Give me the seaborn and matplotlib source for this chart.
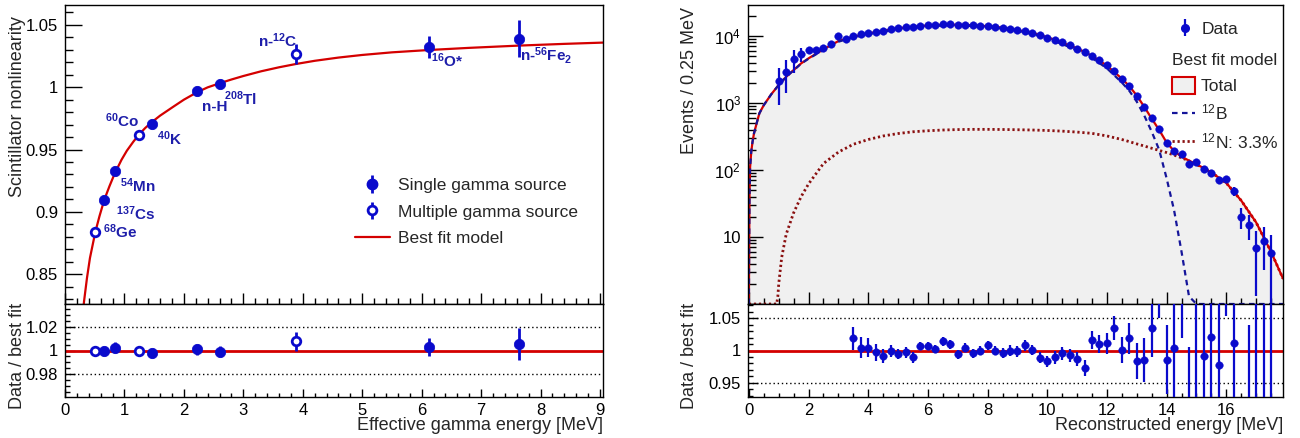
import numpy as np
import matplotlib
matplotlib.use("Agg")
import matplotlib.pyplot as plt
import matplotlib.ticker as mticker
from matplotlib.lines import Line2D
from matplotlib.patches import Patch
import seaborn as sns

# ------------------------------------------------------------------ left panel data
src_labels = [r'$^{\mathbf{68}}$Ge', r'$^{\mathbf{137}}$Cs', r'$^{\mathbf{54}}$Mn', r'$^{\mathbf{60}}$Co',
              r'$^{\mathbf{40}}$K', 'n-H', r'$^{\mathbf{208}}$Tl', r'n-$^{\mathbf{12}}$C',
              r'$^{\mathbf{16}}$O*', r'n-$^{\mathbf{56}}$Fe$_{\mathbf{2}}$']
src_energy = [0.511, 0.662, 0.835, 1.25, 1.461, 2.223, 2.615, 3.88, 6.13, 7.63]
src_nonlin = [0.884, 0.9095, 0.9327, 0.9618, 0.9701, 0.9973, 1.0027, 1.0267, 1.0323, 1.0391]
src_err = [0.003, 0.004, 0.004, 0.004, 0.004, 0.004, 0.004, 0.008, 0.0086, 0.0148]
src_multi = [True, False, False, True, False, False, False, True, False, False]
src_ratio = [1.000, 0.9997, 1.0023, 0.9995, 0.9977, 1.001, 0.9991, 1.0078, 1.0029, 1.0052]
src_ratio_err = [0.0036, 0.004, 0.0047, 0.0043, 0.0045, 0.0045, 0.0045, 0.0079, 0.0079, 0.0137]
label_x = [0.633, 0.850, 0.924, 0.672, 1.541, 2.297, 2.672, 3.249, 6.163, 7.647]
label_y = [0.8788, 0.8931, 0.9160, 0.9677, 0.9537, 0.9812, 0.9860, 1.0320, 1.0162, 1.0210]

fit_energy = [0.30, 0.32, 0.37, 0.42, 0.511, 0.58, 0.662, 0.75, 0.835, 0.95, 1.04, 1.15,
              1.25, 1.35, 1.461, 1.6, 1.82, 2.0, 2.223, 2.4, 2.615, 2.8, 3.0, 3.3, 3.6,
              3.88, 4.2, 4.6, 5.0, 5.5, 6.13, 6.8, 7.63, 8.4, 9.1]
fit_nonlin = [0.818, 0.828, 0.847, 0.863, 0.884, 0.8965, 0.9098, 0.9208, 0.9306, 0.9417,
              0.9490, 0.9563, 0.9623, 0.9673, 0.9720, 0.9772, 0.9843, 0.9900, 0.9960,
              0.9999, 1.0034, 1.0062, 1.0090, 1.0128, 1.0160, 1.0186, 1.0212, 1.0238,
              1.0259, 1.0280, 1.0299, 1.0316, 1.0334, 1.0348, 1.0359]

# ------------------------------------------------------------------ right panel data
data_energy = [1.0 + 0.25 * i for i in range(67)]
data_counts = [2130, 2900, 4490, 5380, 6110, 6110, 6620, 7600, 10000, 8920,
               10000, 10600, 10960, 11600, 12000, 12600, 13000, 13500, 13800, 14300,
               14460, 14600, 14960, 14960, 14600, 14600, 14430, 14260, 14100, 13620,
               13300, 12850, 12150, 11740, 10960, 10240, 9440, 8720, 8050, 7340,
               6460, 5710, 5080, 4340, 3650, 3000, 2310, 1770, 1270, 863,
               604, 405, 250, 192, 171, 123, 130, 102, 89, 71,
               73, 48.6, 20.1, 15, 6.8, 8.7, 5.7]
data_err = [1200, 1480, 1700, 1300, 500, 400, 400, 400, 400, 400,
            250, 250, 250, 250, 250, 250, 250, 250, 250, 250,
            250, 250, 250, 250, 250, 250, 250, 250, 250, 250,
            250, 250, 250, 200, 200, 200, 200, 200, 200, 200,
            200, 150, 150, 150, 150, 150, 150, 120, 90, 60,
            45, 30, 20, 15, 13, 11, 11, 10, 9, 8,
            8, 8, 7, 6, 5.5, 5.5, 5]

model_energy = [0.0, 0.01, 0.02, 0.04, 0.08, 0.12, 0.17, 0.25, 0.35, 0.5, 0.75, 0.93, 0.97,
                1.0, 1.1, 1.25, 1.5, 1.75, 2.0, 2.5, 3.0, 3.5, 4.0, 4.5, 5.0, 5.5, 6.0, 6.5,
                7.0, 7.5, 8.0, 8.5, 9.0, 9.5, 10.0, 10.5, 11.0, 11.5, 12.0, 12.5, 12.75, 13.0,
                13.25, 13.5, 13.75, 14.0, 14.25, 14.5, 14.75, 15.0, 15.5, 16.0, 16.5, 17.0,
                17.5, 17.9]
model_total = [1, 8, 40, 110, 190, 260, 350, 480, 700, 930, 1350, 1700, 1790,
               1860, 2080, 2460, 3100, 3900, 4640, 6320, 8400, 9800, 10910, 11950, 13060,
               13700, 14360, 14700, 14690, 14500, 14000, 13350, 12170, 11150, 9600, 7950,
               6540, 5050, 3610, 2308, 1785, 1290, 878, 584, 396, 257, 192, 158, 138, 122,
               92, 64, 35, 16.5, 6, 2.4]
model_b12 = [1, 8, 40, 110, 190, 260, 350, 480, 700, 930, 1350, 1700, 1789,
             1858, 2075, 2450, 3077, 3860, 4578, 6195, 8215, 9558, 10625, 11628, 12710,
             13328, 13975, 14305, 14289, 14096, 13596, 12948, 11771, 10755, 9211, 7570,
             6172, 4698, 3288, 2020, 1520, 1045, 650, 373, 200, 75, 25, 6, 1.3, 1,
             1, 1, 1, 1, 1, 1]
model_n12 = [1, 1, 1, 1, 1, 1, 1, 1, 1, 1, 1, 1, 1.3,
             2, 5, 11, 23, 40, 62, 125, 185, 242, 285, 322, 350,
             372, 385, 395, 401, 404, 404, 402, 399, 395, 389, 380,
             368, 352, 322, 285, 265, 245, 228, 211, 196, 182, 167, 152, 137, 121,
             92, 64, 35, 16.5, 6, 2.4]

ratio_energy = [3.5 + 0.25 * i for i in range(57)]
ratio_values = [1.0187, 1.0045, 1.0045, 0.9975, 0.992, 0.999, 0.995, 0.997, 0.9894, 1.007,
                1.007, 1.003, 1.0146, 1.010, 0.9944, 1.004, 0.996, 1.000, 1.008, 0.9995,
                0.996, 1.000, 0.9985, 1.008, 1.001, 0.989, 0.983, 0.9894, 0.996, 0.9924,
                0.987, 0.973, 1.0157, 1.010, 1.011, 1.035, 1.001, 1.019, 0.984, 0.986,
                1.035, 1.10, 0.986, 1.0045, 1.12, 0.90, 1.15, 0.992, 1.021, 0.978,
                1.12, 1.012, 0.59, 0.63, 0.42, 0.76, 1.2]
ratio_err = [0.0177, 0.016, 0.015, 0.013, 0.011, 0.009, 0.008, 0.009, 0.008, 0.006,
             0.006, 0.006, 0.007, 0.007, 0.007, 0.007, 0.007, 0.007, 0.007, 0.007,
             0.008, 0.008, 0.008, 0.008, 0.008, 0.009, 0.009, 0.010, 0.010, 0.010,
             0.011, 0.013, 0.014, 0.014, 0.016, 0.018, 0.020, 0.024, 0.028, 0.034,
             0.045, 0.05, 0.054, 0.09, 0.10, 0.106, 0.25, 0.10, 0.10, 0.10,
             0.066, 0.12, 0.2, 0.41, 0.8, 0.45, 0.9]

# ------------------------------------------------------------------ style
sns.set_theme(style="white")
plt.rcParams["font.family"] = ["Liberation Sans", "DejaVu Sans"]
plt.rcParams["mathtext.fontset"] = "custom"
plt.rcParams["mathtext.rm"] = "Liberation Sans"
plt.rcParams["mathtext.it"] = "Liberation Sans:italic"
plt.rcParams["mathtext.bf"] = "Liberation Sans:bold"
plt.rcParams["axes.unicode_minus"] = False

BLUE = "#0a0acc"
LBLUE = "#1e1eaa"
RED = "#d40000"
NAVY = "#15159a"
DRED = "#8a1010"
GRAY = "#f0f0f0"
TICK_FS = 12
TITLE_FS = 13
LEG_FS = 12.5

W, H = 1300, 438
fig = plt.figure(figsize=(13, 4.38), dpi=100)


def rect(x0, y0, x1, y1):
    return [x0 / W, 1 - y1 / H, (x1 - x0) / W, (y1 - y0) / H]


def style_axis(ax, xmaj, xmin, ymaj, ymin):
    for s in ax.spines.values():
        s.set_visible(True)
        s.set_color("black")
        s.set_linewidth(1.0)
    ax.tick_params(axis="x", which="major", direction="in", length=xmaj, width=1,
                   colors="black", top=False, bottom=True, labelsize=TICK_FS, pad=4)
    ax.tick_params(axis="x", which="minor", direction="in", length=xmin, width=1,
                   colors="black", top=False, bottom=True)
    ax.tick_params(axis="y", which="major", direction="in", length=ymaj, width=1,
                   colors="black", right=False, left=True, labelsize=TICK_FS, pad=5)
    ax.tick_params(axis="y", which="minor", direction="in", length=ymin, width=1,
                   colors="black", right=False, left=True)
    ax.grid(False)


gfmt = mticker.FuncFormatter(lambda v, p: "%g" % round(v, 6))

# ================================================================== LEFT TOP
axL = fig.add_axes(rect(65, 5, 603, 304))
axL.set_facecolor("white")
sns.lineplot(x=fit_energy, y=fit_nonlin, ax=axL, color=RED, lw=1.6, sort=False,
             estimator=None, zorder=2)
axL.errorbar(src_energy, src_nonlin, yerr=src_err, fmt="none", ecolor=BLUE,
             elinewidth=2, capsize=0, zorder=3)
single_x = [e for e, m in zip(src_energy, src_multi) if not m]
single_y = [v for v, m in zip(src_nonlin, src_multi) if not m]
multi_x = [e for e, m in zip(src_energy, src_multi) if m]
multi_y = [v for v, m in zip(src_nonlin, src_multi) if m]
sns.scatterplot(x=single_x, y=single_y, ax=axL, color=BLUE, s=56, edgecolor=BLUE,
                linewidth=0.5, zorder=4)
sns.scatterplot(x=multi_x, y=multi_y, ax=axL, color="white", s=38, edgecolor=BLUE,
                linewidth=2.0, zorder=4)
for lab, lx, ly in zip(src_labels, label_x, label_y):
    axL.text(lx, ly, lab, color=LBLUE, fontsize=11, fontweight="bold",
             ha="left", va="baseline", zorder=5)
axL.set_xlim(0, 9.05)
axL.set_ylim(0.826, 1.066)
axL.xaxis.set_major_locator(mticker.MultipleLocator(1))
axL.xaxis.set_minor_locator(mticker.MultipleLocator(0.2))
axL.yaxis.set_major_locator(mticker.MultipleLocator(0.05))
axL.yaxis.set_minor_locator(mticker.MultipleLocator(0.01))
axL.yaxis.set_major_formatter(gfmt)
style_axis(axL, 8, 4, 12, 6)
axL.tick_params(axis="x", labelbottom=False)
axL.set_xlabel("")
axL.set_ylabel("")

h_single = axL.errorbar([np.nan], [np.nan], yerr=[0.01], fmt="o", color=BLUE, ms=7.5,
                        elinewidth=2, capsize=0)
h_multi = axL.errorbar([np.nan], [np.nan], yerr=[0.01], fmt="o", color=BLUE, mfc="white",
                       mec=BLUE, mew=2, ms=6.3, elinewidth=2, capsize=0)
h_fit = Line2D([], [], color=RED, lw=1.6)
axL.legend([h_single, h_multi, h_fit],
           ["Single gamma source", "Multiple gamma source", "Best fit model"],
           loc="center left", bbox_to_anchor=((355 - 65) / 538, (304 - 212) / 299),
           frameon=False, borderpad=0, borderaxespad=0, handlelength=2.0,
           handletextpad=0.5, labelspacing=0.65, fontsize=LEG_FS)

# ================================================================== LEFT RATIO
axLr = fig.add_axes(rect(65, 304, 603, 397))
axLr.set_facecolor("white")
for v in (0.98, 1.02):
    axLr.axhline(v, color="black", lw=1, ls=(0, (1, 2)), zorder=1)
axLr.axhline(1.0, color=RED, lw=2, zorder=2)
axLr.errorbar(src_energy, src_ratio, yerr=src_ratio_err, fmt="none", ecolor=BLUE,
              elinewidth=2, capsize=0, zorder=3)
single_r = [v for v, m in zip(src_ratio, src_multi) if not m]
multi_r = [v for v, m in zip(src_ratio, src_multi) if m]
sns.scatterplot(x=single_x, y=single_r, ax=axLr, color=BLUE, s=56, edgecolor=BLUE,
                linewidth=0.5, zorder=4)
sns.scatterplot(x=multi_x, y=multi_r, ax=axLr, color="white", s=38, edgecolor=BLUE,
                linewidth=2.0, zorder=4)
axLr.set_xlim(0, 9.05)
axLr.set_ylim(0.9604, 1.0396)
axLr.xaxis.set_major_locator(mticker.MultipleLocator(1))
axLr.xaxis.set_minor_locator(mticker.MultipleLocator(0.2))
axLr.yaxis.set_major_locator(mticker.MultipleLocator(0.02))
axLr.yaxis.set_minor_locator(mticker.MultipleLocator(0.005))
axLr.yaxis.set_major_formatter(gfmt)
axLr.xaxis.set_major_formatter(gfmt)
style_axis(axLr, 6, 3, 7, 3.5)
axLr.set_xlabel("")
axLr.set_ylabel("")

# ================================================================== RIGHT TOP
axR = fig.add_axes(rect(748, 5, 1283, 304))
axR.set_facecolor("white")
axR.set_yscale("log")
axR.fill_between(model_energy, model_total, 0.5, color=GRAY, lw=0, zorder=0)
sns.lineplot(x=model_energy, y=model_n12, ax=axR, color=DRED, lw=2.0, sort=False,
             estimator=None, linestyle=(0, (0.8, 1.0)), zorder=1)
sns.lineplot(x=model_energy, y=model_total, ax=axR, color=RED, lw=1.6, sort=False,
             estimator=None, zorder=2)
sns.lineplot(x=model_energy, y=model_b12, ax=axR, color=NAVY, lw=1.6, sort=False,
             estimator=None, linestyle=(0, (2.5, 2.0)), zorder=2.5)
axR.errorbar(data_energy, data_counts, yerr=data_err, fmt="none", ecolor=BLUE,
             elinewidth=1.6, capsize=0, zorder=3)
sns.scatterplot(x=data_energy, y=data_counts, ax=axR, color=BLUE, s=30, edgecolor=BLUE,
                linewidth=0.3, zorder=4)
axR.set_xlim(-0.03, 17.9)
axR.set_ylim(1, 29000)
axR.xaxis.set_major_locator(mticker.MultipleLocator(2))
axR.xaxis.set_minor_locator(mticker.MultipleLocator(0.5))
axR.yaxis.set_major_locator(mticker.FixedLocator([1, 10, 100, 1000, 10000]))
axR.yaxis.set_major_formatter(mticker.FixedFormatter(
    ["", "10", r"$10^{2}$", r"$10^{3}$", r"$10^{4}$"]))
axR.yaxis.set_minor_locator(mticker.LogLocator(base=10, subs=np.arange(2, 10), numticks=20))
axR.yaxis.set_minor_formatter(mticker.NullFormatter())
style_axis(axR, 8.5, 4, 11, 6)
axR.tick_params(axis="x", labelbottom=False)
axR.set_xlabel("")
axR.set_ylabel("")

h_data = axR.errorbar([np.nan], [np.nan], yerr=[1], fmt="o", color=BLUE, ms=5.5,
                      elinewidth=1.6, capsize=0)
leg1 = axR.legend([h_data], ["Data"], loc="center left",
                  bbox_to_anchor=((1173 - 748) / 535, (304 - 29) / 299),
                  frameon=False, borderpad=0, borderaxespad=0, handlelength=1.35,
                  handletextpad=0.3, fontsize=LEG_FS)
axR.add_artist(leg1)
h_total = Patch(facecolor=GRAY, edgecolor=RED, lw=1.5)
h_b12 = Line2D([], [], color=NAVY, lw=1.6, ls=(0, (2.5, 2.0)))
h_n12 = Line2D([], [], color=DRED, lw=2.0, ls=(0, (0.8, 1.0)))
axR.legend([h_total, h_b12, h_n12], ["Total", r"$^{12}$B", r"$^{12}$N: 3.3%"],
           title="Best fit model", alignment="left", loc="upper left",
           bbox_to_anchor=((1172 - 748) / 535, (304 - 53) / 299),
           frameon=False, borderpad=0, borderaxespad=0, handlelength=1.35,
           handleheight=1.15, handletextpad=0.3, labelspacing=0.5, fontsize=LEG_FS,
           title_fontsize=LEG_FS)

# ================================================================== RIGHT RATIO
axRr = fig.add_axes(rect(748, 304, 1283, 397))
axRr.set_facecolor("white")
for v in (0.95, 1.05):
    axRr.axhline(v, color="black", lw=1, ls=(0, (1, 2)), zorder=1)
axRr.axhline(1.0, color=RED, lw=2, zorder=2)
axRr.errorbar(ratio_energy, ratio_values, yerr=ratio_err, fmt="none", ecolor=BLUE,
              elinewidth=1.6, capsize=0, zorder=3)
sns.scatterplot(x=ratio_energy, y=ratio_values, ax=axRr, color=BLUE, s=30,
                edgecolor=BLUE, linewidth=0.3, zorder=4)
axRr.set_xlim(-0.03, 17.9)
axRr.set_ylim(0.928, 1.072)
axRr.xaxis.set_major_locator(mticker.MultipleLocator(2))
axRr.xaxis.set_minor_locator(mticker.MultipleLocator(0.5))
axRr.yaxis.set_major_locator(mticker.MultipleLocator(0.05))
axRr.yaxis.set_minor_locator(mticker.MultipleLocator(0.01))
axRr.yaxis.set_major_formatter(gfmt)
axRr.xaxis.set_major_formatter(gfmt)
style_axis(axRr, 6, 3, 7, 3.5)
axRr.set_xlabel("")
axRr.set_ylabel("")

# ================================================================== axis titles
fig.text(18 / W, 1 - 16 / H, "Scintillator nonlinearity", rotation=90, ha="center",
         va="top", fontsize=TITLE_FS)
fig.text(18 / W, 1 - 356 / H, "Data / best fit", rotation=90, ha="center",
         va="center", fontsize=TITLE_FS)
fig.text(690 / W, 1 - 7 / H, "Events / 0.25 MeV", rotation=90, ha="center",
         va="top", fontsize=TITLE_FS)
fig.text(690 / W, 1 - 356 / H, "Data / best fit", rotation=90, ha="center",
         va="center", fontsize=TITLE_FS)
fig.text(603 / W, 1 - 425 / H, "Effective gamma energy [MeV]", ha="right",
         va="center", fontsize=TITLE_FS)
fig.text(1283 / W, 1 - 425 / H, "Reconstructed energy [MeV]", ha="right",
         va="center", fontsize=TITLE_FS)

fig.savefig("out.png", dpi=100, facecolor="white")
